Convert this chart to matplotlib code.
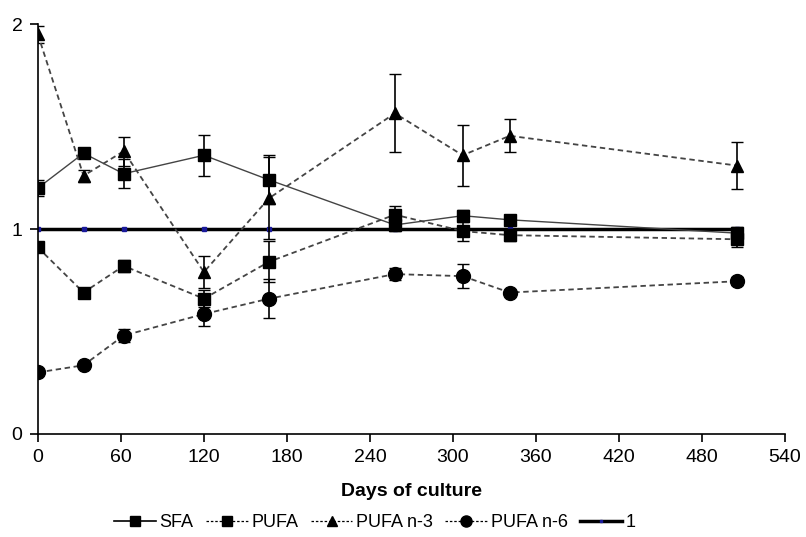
import matplotlib
matplotlib.use("Agg")
import matplotlib.pyplot as plt
from matplotlib.lines import Line2D

plt.rcParams['font.family'] = ['Liberation Sans', 'DejaVu Sans']

days = [0, 33, 62, 120, 167, 258, 307, 341, 505]

sfa = [1.20, 1.37, 1.27, 1.36, 1.24, 1.02, 1.065, 1.045, 0.98]
sfa_err = [0.04, 0.02, 0.07, 0.10, 0.12, 0.03, 0.03, 0.02, 0.03]

pufa = [0.91, 0.69, 0.82, 0.66, 0.84, 1.07, 0.99, 0.97, 0.95]
pufa_err = [0.01, 0.01, 0.03, 0.04, 0.10, 0.04, 0.05, 0.03, 0.04]

n3 = [1.95, 1.26, 1.38, 0.79, 1.15, 1.565, 1.36, 1.455, 1.31]
n3_err = [0.04, 0.03, 0.07, 0.08, 0.20, 0.19, 0.15, 0.08, 0.115]

n6 = [0.30, 0.335, 0.48, 0.585, 0.66, 0.78, 0.77, 0.69, 0.745]
n6_err = [0.01, 0.01, 0.03, 0.06, 0.095, 0.03, 0.06, 0.01, 0.02]

ref = [1, 1, 1, 1, 1, 1, 1, 1, 1]

xticks = list(range(0, 541, 60))

fig = plt.figure(figsize=(8.06, 5.37), dpi=100)
ax = fig.add_axes([0.047, 0.192, 0.927, 0.763])

dash = (0, (3, 2))
ax.plot(days, ref, color='black', lw=2.5, marker='s', ms=3,
        mfc='#1a1a9a', mec='#1a1a9a', zorder=2)
ax.errorbar(days, sfa, yerr=sfa_err, color='#444444', lw=1.0, marker='s', ms=8,
            mfc='black', mec='black', ecolor='black', elinewidth=1.2, capsize=4, zorder=3)
ax.errorbar(days, pufa, yerr=pufa_err, color='#444444', lw=1.3, ls=dash, marker='s', ms=8,
            mfc='black', mec='black', ecolor='black', elinewidth=1.2, capsize=4, zorder=3)
ax.errorbar(days, n3, yerr=n3_err, color='#444444', lw=1.3, ls=dash, marker='^', ms=8,
            mfc='black', mec='black', ecolor='black', elinewidth=1.2, capsize=4, zorder=3)
ax.errorbar(days, n6, yerr=n6_err, color='#444444', lw=1.3, ls=dash, marker='o', ms=10,
            mfc='black', mec='black', ecolor='black', elinewidth=1.2, capsize=4, zorder=3)

ax.set_xlim(0, 540)
ax.set_ylim(0, 2)
ax.set_xticks(xticks)
ax.set_yticks([0, 1, 2])
ax.spines['top'].set_visible(False)
ax.spines['right'].set_visible(False)
ax.spines['left'].set_linewidth(1.2)
ax.spines['bottom'].set_linewidth(1.2)
ax.tick_params(direction='out', length=6, width=1.2, labelsize=14, pad=5)
ax.set_xlabel('Days of culture', fontsize=14, fontweight='bold', labelpad=12)

dot = (0, (2, 1.5))
handles = [
    Line2D([], [], color='black', lw=1.2, marker='s', ms=7),
    Line2D([], [], color='black', lw=0.9, ls=dot, marker='s', ms=7),
    Line2D([], [], color='black', lw=0.9, ls=dot, marker='^', ms=7),
    Line2D([], [], color='black', lw=0.9, ls=dot, marker='o', ms=8),
    Line2D([], [], color='black', lw=2.5, marker='s', ms=2, mfc='#1a1a9a', mec='#1a1a9a'),
]
labels = ['SFA', 'PUFA', 'PUFA n-3', 'PUFA n-6', '1']
fig.legend(handles, labels, loc='lower center', bbox_to_anchor=(0.465, -0.02), ncol=5,
           frameon=False, fontsize=13, handlelength=2.3, handletextpad=0.2,
           columnspacing=0.7)

fig.savefig('out.png', dpi=100)
